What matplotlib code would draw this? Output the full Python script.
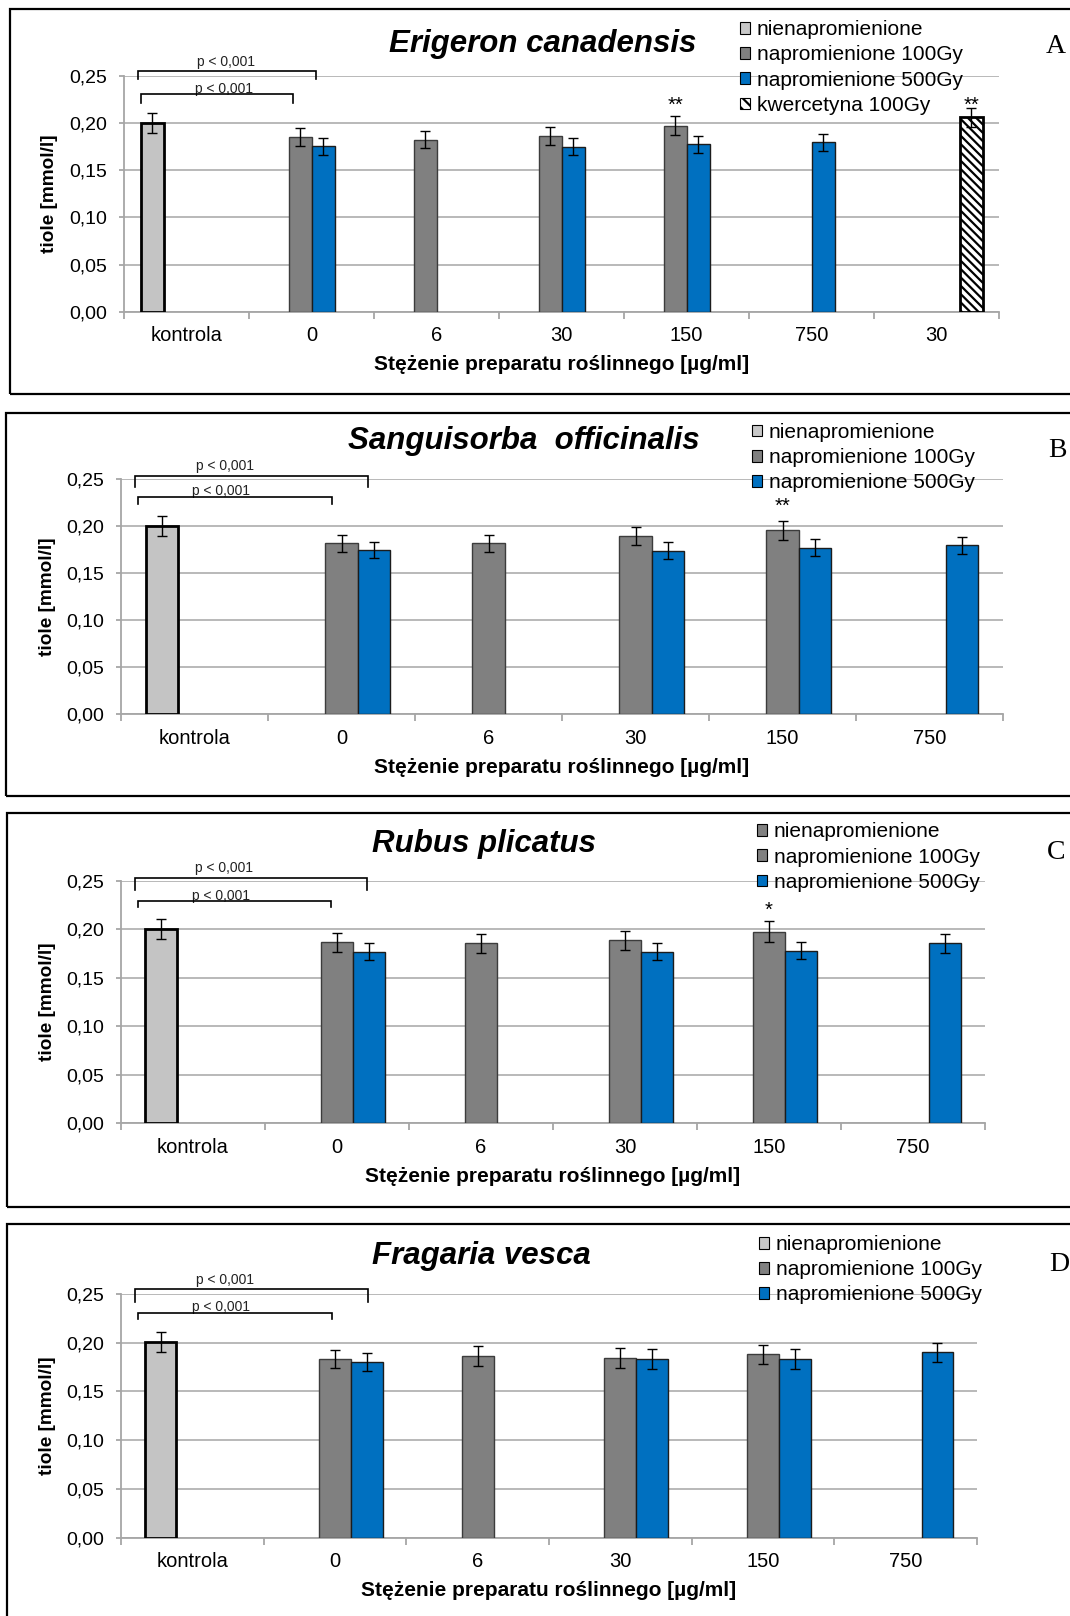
import numpy as np
import matplotlib
matplotlib.use("Agg")
import matplotlib.pyplot as plt
import matplotlib.patches as mpatches
from matplotlib.ticker import FuncFormatter

W_PX, H_PX = 1070, 1616
DPI = 100

plt.rcParams['font.family'] = ['Liberation Sans', 'DejaVu Sans']
plt.rcParams['hatch.linewidth'] = 1.6

nan = np.nan

# --- dane: tiole [mmol/l], srednia i odchylenie ---
kategorie_A = ["kontrola", "0", "6", "30", "150", "750", "30"]
kategorie_BCD = ["kontrola", "0", "6", "30", "150", "750"]

# Erigeron canadensis
A_nien = [0.200, nan, nan, nan, nan, nan, nan]
A_nien_sd = [0.0105, nan, nan, nan, nan, nan, nan]
A_100 = [nan, 0.1847, 0.1822, 0.1858, 0.1970, nan, nan]
A_100_sd = [nan, 0.0096, 0.0090, 0.0095, 0.0100, nan, nan]
A_500 = [nan, 0.1755, nan, 0.1748, 0.1773, 0.1794, nan]
A_500_sd = [nan, 0.0090, nan, 0.0090, 0.0090, 0.0090, nan]
A_kwer = [nan, nan, nan, nan, nan, nan, 0.2060]
A_kwer_sd = [nan, nan, nan, nan, nan, nan, 0.0100]

# Sanguisorba officinalis
B_nien = [0.200, nan, nan, nan, nan, nan]
B_nien_sd = [0.0105, nan, nan, nan, nan, nan]
B_100 = [nan, 0.1820, 0.1820, 0.1894, 0.1957, nan]
B_100_sd = [nan, 0.0092, 0.0090, 0.0096, 0.0103, nan]
B_500 = [nan, 0.1750, nan, 0.1740, 0.1772, 0.1798]
B_500_sd = [nan, 0.0085, nan, 0.0090, 0.0090, 0.0090]

# Rubus plicatus
C_nien = [0.200, nan, nan, nan, nan, nan]
C_nien_sd = [0.0103, nan, nan, nan, nan, nan]
C_100 = [nan, 0.1866, 0.1856, 0.1889, 0.1978, nan]
C_100_sd = [nan, 0.0099, 0.0099, 0.0100, 0.0110, nan]
C_500 = [nan, 0.1769, nan, 0.1772, 0.1782, 0.1858]
C_500_sd = [nan, 0.0087, nan, 0.0086, 0.0087, 0.0100]

# Fragaria vesca
D_nien = [0.2005, nan, nan, nan, nan, nan]
D_nien_sd = [0.0100, nan, nan, nan, nan, nan]
D_100 = [nan, 0.1831, 0.1862, 0.1841, 0.1879, nan]
D_100_sd = [nan, 0.0095, 0.0099, 0.0099, 0.0099, nan]
D_500 = [nan, 0.1800, nan, 0.1828, 0.1828, 0.1900]
D_500_sd = [nan, 0.0090, nan, 0.0102, 0.0102, 0.0098]

etykiety = ["nienapromienione", "napromienione 100Gy", "napromienione 500Gy", "kwercetyna 100Gy"]

STYL = {
    "nien": dict(color="#c4c4c4", edgecolor="black", linewidth=2.0),
    "100": dict(color="#808080", edgecolor="#3c3c3c", linewidth=1.0),
    "500": dict(color="#0070c0", edgecolor="#1c1c1c", linewidth=1.0),
    "kwer": dict(color="white", edgecolor="black", linewidth=2.0, hatch="\\\\\\\\"),
}

SZARY_OS = "#a6a6a6"
SIATKA = "#b3b3b3"

fig = plt.figure(figsize=(W_PX / DPI, H_PX / DPI), dpi=DPI)


def fx(px):
    return px / W_PX


def fy(py):
    return 1 - py / H_PX


def ramka(x0, y0, y1):
    # czarna ramka wokol panelu (prawy bok poza kadrem)
    r = mpatches.Rectangle((fx(x0), fy(y1)), 1.2, (y1 - y0) / H_PX,
                           transform=fig.transFigure, fill=False,
                           edgecolor="black", linewidth=1.6)
    fig.patches.append(r)


def panel(geom, kategorie, serie, tytul, tytul_xy, litera, litera_xy,
          leg_xy, leg_pierwszy, gwiazdki, klamry, szer):
    x0, x1, ytop, ybot = geom
    ax = fig.add_axes([fx(x0), fy(ybot), (x1 - x0) / W_PX, (ybot - ytop) / H_PX])
    n = len(kategorie)
    x = np.arange(n)
    k = len(serie)
    offs = (np.arange(k) - (k - 1) / 2) * szer

    for (klucz, vals, sds), off in zip(serie, offs):
        vals = np.array(vals)
        sds = np.array(sds)
        m = ~np.isnan(vals)
        ax.bar(x[m] + off, vals[m], szer, zorder=3, **STYL[klucz])
        ax.errorbar(x[m] + off, vals[m], yerr=sds[m], fmt="none", ecolor="black",
                    elinewidth=1.0, capsize=3.5, capthick=1.0, zorder=4)

    ax.set_xlim(-0.5, n - 0.5)
    ax.set_ylim(0, 0.25)
    ax.set_yticks(np.arange(0, 0.2501, 0.05))
    ax.yaxis.set_major_formatter(FuncFormatter(lambda v, p: f"{v:.2f}".replace(".", ",")))
    ax.set_axisbelow(True)
    ax.yaxis.grid(True, color=SIATKA, linewidth=1.3)
    for s in ("top", "right"):
        ax.spines[s].set_visible(False)
    for s in ("left", "bottom"):
        ax.spines[s].set_color(SZARY_OS)
        ax.spines[s].set_linewidth(1.3)

    ax.set_xticks(x, kategorie)
    ax.set_xticks(np.arange(-0.5, n), minor=True)
    ax.tick_params(axis="x", which="major", length=0, pad=21.2, labelsize=14.5)
    ax.tick_params(axis="x", which="minor", length=4.8, width=1.3, color=SZARY_OS)
    ax.tick_params(axis="y", length=3.7, width=1.3, color=SZARY_OS, pad=8.5, labelsize=14)
    for lab in ax.get_xticklabels():
        lab.set_va("baseline")

    h = ybot - ytop
    w = x1 - x0
    ax.set_xlabel("Stężenie preparatu roślinnego [µg/ml]", fontsize=15, fontweight="bold")
    ax.xaxis.set_label_coords(0.5, -58.5 / h)
    ax.xaxis.label.set_va("baseline")
    ax.set_ylabel("tiole [mmol/l]", fontsize=13.7, fontweight="bold")
    ax.yaxis.set_label_coords((geom_ylab[litera] - x0) / w, 0.5)
    ax.yaxis.label.set_va("center")

    # klamry istotnosci
    for (a, b, yk, yt, lx, ly) in klamry:
        ax.plot([a, a, b, b], [yt, yk, yk, yt], color="black", linewidth=1.2,
                clip_on=False, zorder=5, solid_joinstyle="miter")
        ax.text(lx, ly, "p < 0,001", fontsize=10, color="#222222",
                ha="center", va="center", clip_on=False)

    # gwiazdki nad slupkami
    klucze = [s[0] for s in serie]
    for (kat, klucz, znak, yg) in gwiazdki:
        xs = kat + offs[klucze.index(klucz)]
        ax.text(xs, yg, znak, fontsize=14.5, ha="center", va="baseline")

    fig.text(fx(tytul_xy[0]), fy(tytul_xy[1]), tytul, fontsize=22.5,
             fontweight="bold", fontstyle="italic", ha="center", va="baseline")
    fig.text(fx(litera_xy[0]), fy(litera_xy[1]), litera, fontsize=20,
             family="Liberation Serif", ha="left", va="baseline")

    # legenda
    uchwyty = []
    for i, (klucz, _, _) in enumerate(serie):
        if i == 0:
            uchwyty.append(mpatches.Patch(facecolor=leg_pierwszy, edgecolor="black", linewidth=0.8))
        elif klucz == "kwer":
            uchwyty.append(mpatches.Patch(facecolor="white", edgecolor="black",
                                          linewidth=0.8, hatch="\\\\\\"))
        else:
            uchwyty.append(mpatches.Patch(facecolor=STYL[klucz]["color"],
                                          edgecolor="black", linewidth=0.8))
    row_h = 23.6
    ax.legend(uchwyty, etykiety[:k], loc="upper left",
              bbox_to_anchor=(fx(leg_xy[0]), fy(leg_xy[1] - row_h / 2 + 3)),
              bbox_transform=fig.transFigure, frameon=False, fontsize=15,
              borderpad=0, borderaxespad=0, handlelength=0.5, handleheight=0.5,
              handletextpad=0.3, labelspacing=0.3)
    return ax


geom_ylab = {"A": 50, "B": 47, "C": 47, "D": 47}

ramka(10, 9, 394)
ramka(6, 413, 796)
ramka(7, 813, 1207)
ramka(7, 1224, 1640)

panel((124, 999, 75.7, 311.7), kategorie_A,
      [("nien", A_nien, A_nien_sd), ("100", A_100, A_100_sd),
       ("500", A_500, A_500_sd), ("kwer", A_kwer, A_kwer_sd)],
      "Erigeron canadensis", (543, 52.3), "A", (1045.5, 53.3),
      (740, 29), "#c8c8c8",
      [(4, "100", "**", 0.2126), (6, "kwer", "**", 0.2126)],
      [(-0.385, 1.034, 0.2553, 0.2462, 0.316, 0.2642),
       (-0.368, 0.852, 0.2303, 0.2214, 0.300, 0.2356)],
      0.184)

panel((121, 1003, 479.3, 714.3), kategorie_BCD,
      [("nien", B_nien, B_nien_sd), ("100", B_100, B_100_sd), ("500", B_500, B_500_sd)],
      "Sanguisorba  officinalis", (524, 449.3), "B", (1048, 457.3),
      (752, 431.7), "#c8c8c8",
      [(4, "100", "**", 0.2155)],
      [(-0.405, 1.179, 0.2538, 0.2421, 0.205, 0.2645),
       (-0.382, 0.933, 0.2309, 0.2234, 0.180, 0.2376)],
      0.222)

panel((121, 985, 881, 1123.3), kategorie_BCD,
      [("nien", C_nien, C_nien_sd), ("100", C_100, C_100_sd), ("500", C_500, C_500_sd)],
      "Rubus plicatus", (484, 851.7), "C", (1046.5, 859.3),
      (757, 831.2), "#808080",
      [(4, "100", "*", 0.2140)],
      [(-0.403, 1.208, 0.2536, 0.2405, 0.217, 0.2635),
       (-0.379, 0.958, 0.2295, 0.2227, 0.194, 0.2346)],
      0.222)

panel((121, 977, 1293.7, 1537.7), kategorie_BCD,
      [("nien", D_nien, D_nien_sd), ("100", D_100, D_100_sd), ("500", D_500, D_500_sd)],
      "Fragaria vesca", (481, 1264.3), "D", (1049, 1270.7),
      (759, 1243.8), "#c8c8c8",
      [],
      [(-0.402, 1.231, 0.2545, 0.2418, 0.226, 0.2640),
       (-0.378, 0.977, 0.2305, 0.2238, 0.201, 0.2361)],
      0.222)

fig.savefig("out.png", dpi=DPI)
